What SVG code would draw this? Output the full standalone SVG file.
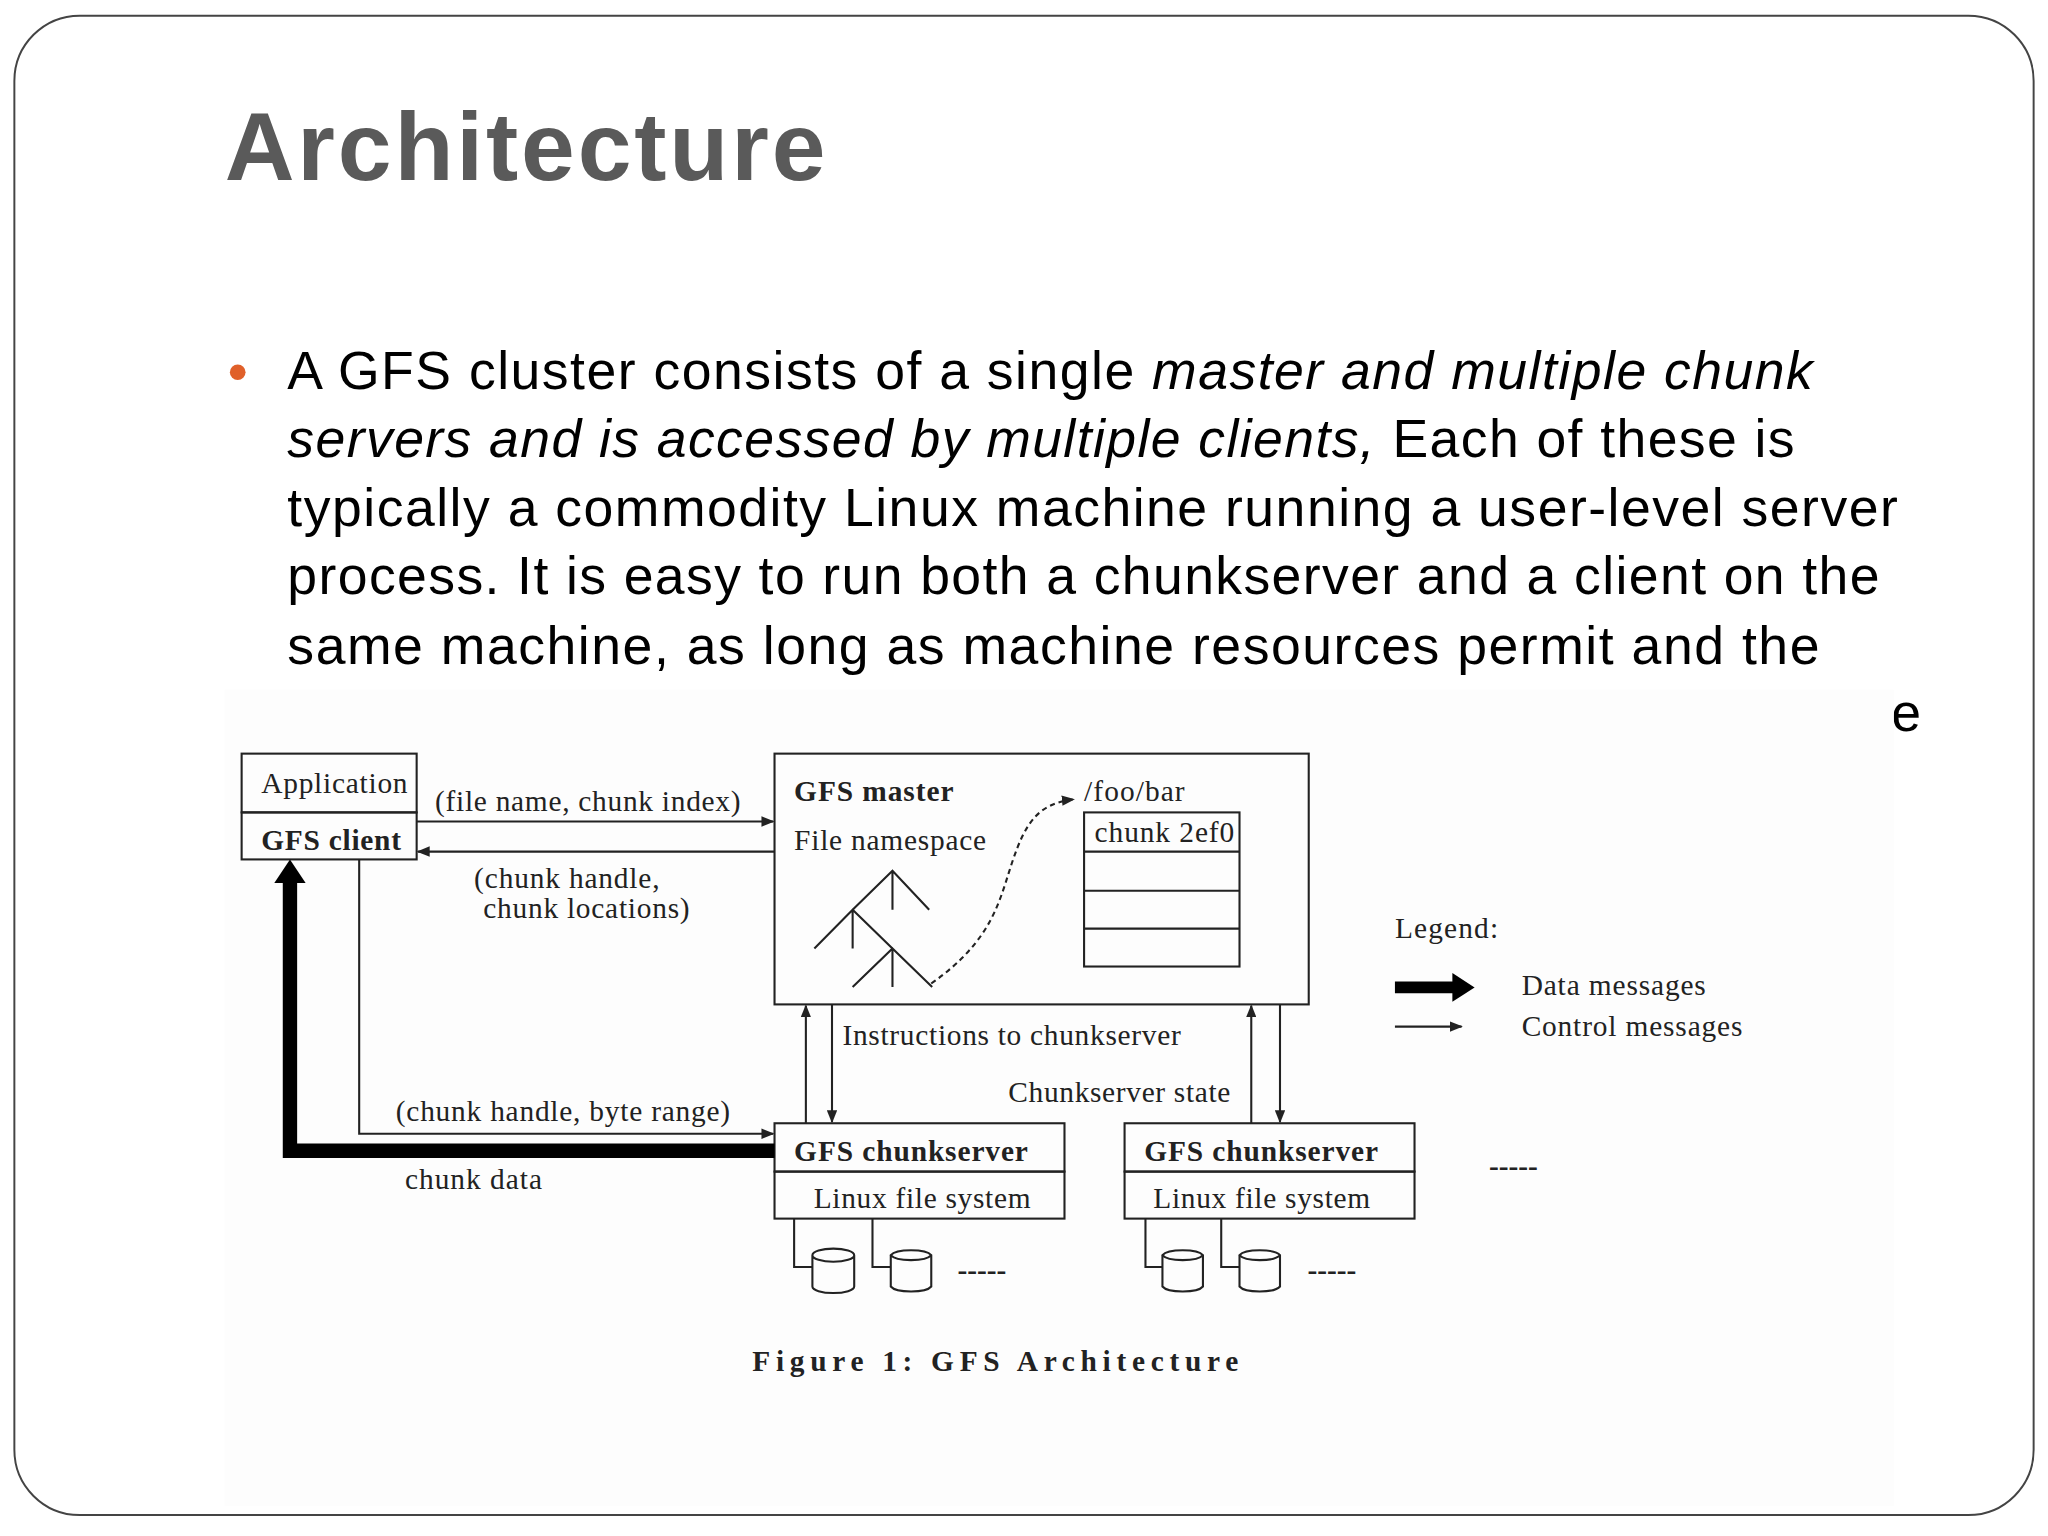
<svg xmlns="http://www.w3.org/2000/svg" width="2048" height="1536" viewBox="0 0 2048 1536">
<style>
.s{font-family:"Liberation Sans",Arial,sans-serif;font-size:41px;fill:#000}
.d{font-family:"Liberation Serif","DejaVu Serif",serif;font-size:22.5px;fill:#222}
.b{font-weight:bold}
.ln{stroke:#222;stroke-width:1.6;fill:none}
</style>
<defs>
<marker id="ah" markerWidth="10" markerHeight="8" refX="9" refY="4" orient="auto" markerUnits="userSpaceOnUse"><path d="M0,0 L10,4 L0,8 Z" fill="#222"/></marker>
</defs>
<rect width="2048" height="1536" fill="#fff"/>
<g transform="scale(1.30612)">
<rect x="11" y="12" width="1546" height="1148" rx="50" fill="#fff" stroke="#444" stroke-width="1.5"/>
<text x="172" y="138" font-family="Liberation Sans,Arial,sans-serif" font-size="74" font-weight="bold" fill="#5a5a5a" textLength="460">Architecture</text>
<circle cx="182" cy="285" r="6" fill="#E0602A"/>
<text class="s" x="220" y="298" textLength="1168">A GFS cluster consists of a single <tspan font-style="italic">master and multiple chunk</tspan></text>
<text class="s" x="220" y="350" textLength="1154"><tspan font-style="italic">servers and is accessed by multiple clients,</tspan> Each of these is</text>
<text class="s" x="220" y="403" textLength="1233">typically a commodity Linux machine running a user-level server</text>
<text class="s" x="220" y="455" textLength="1219">process. It is easy to run both a chunkserver and a client on the</text>
<text class="s" x="220" y="508" textLength="1173">same machine, as long as machine resources permit and the</text>
<text class="s" x="1448" y="560">e</text>
<rect x="172" y="528" width="1278" height="625" fill="#fdfdfd"/>
<g id="client">
<rect x="185" y="577" width="134" height="45" class="ln"/>
<rect x="185" y="622" width="134" height="36" class="ln"/>
<text class="d" x="200" y="607" textLength="112">Application</text>
<text class="d b" x="200" y="651" textLength="107">GFS client</text>
</g>
<g id="master">
<rect x="593" y="577" width="409" height="192" class="ln"/>
<text class="d b" x="608" y="613" textLength="122">GFS master</text>
<text class="d" x="608" y="651" textLength="147">File namespace</text>
<text class="d" x="830" y="613" textLength="77">/foo/bar</text>
<rect x="830" y="622" width="119" height="118" class="ln"/>
<path class="ln" d="M830,652H949M830,682H949M830,711H949"/>
<text class="d" x="838" y="645" textLength="107">chunk 2ef0</text>
<path class="ln" d="M652.8,696.5L683.3,666.7L711.4,696.5M683.3,666.7V696.5M623.5,726.2L652.8,696.5L683.3,726.2M652.8,696.5V726.2M652.8,755.6L683.3,726.2L713.7,755.6M683.3,726.2V755.6"/>
</g>
<g id="cs1">
<rect x="593" y="860" width="222" height="37" class="ln"/>
<rect x="593" y="897" width="222" height="36" class="ln"/>
<text class="d b" x="608" y="889" textLength="179">GFS chunkserver</text>
<text class="d" x="623" y="925" textLength="166">Linux file system</text>
</g>
<g id="cs2">
<rect x="861" y="860" width="222" height="37" class="ln"/>
<rect x="861" y="897" width="222" height="36" class="ln"/>
<text class="d b" x="876" y="889" textLength="179">GFS chunkserver</text>
<text class="d" x="883" y="925" textLength="166">Linux file system</text>
</g>
<g id="disks" class="ln">
<path d="M608,933V970H622M668,933V970H682M877,933V970H890M935,933V970H949"/>
<path d="M622,961V985A16,5 0 0 0 654,985V961A16,5 0 0 0 622,961A16,5 0 0 0 654,961"/>
<path d="M682,961V985A16,5 0 0 0 713,985V961A16,5 0 0 0 682,961A16,5 0 0 0 713,961"/>
<path d="M890,961V985A16,5 0 0 0 921,985V961A16,5 0 0 0 890,961A16,5 0 0 0 921,961"/>
<path d="M949,961V985A16,5 0 0 0 980,985V961A16,5 0 0 0 949,961A16,5 0 0 0 980,961"/>
</g>
<g id="connectors">
<line class="ln" x1="319" y1="629" x2="592" y2="629" marker-end="url(#ah)"/>
<line class="ln" x1="593" y1="652" x2="320" y2="652" marker-end="url(#ah)"/>
<path class="ln" stroke-dasharray="4,3" d="M713,753C760,720 765,690 775,660C785,630 795,615 822,612" marker-end="url(#ah)"/>
<line class="ln" x1="617" y1="860" x2="617" y2="770" marker-end="url(#ah)"/>
<line class="ln" x1="637" y1="769" x2="637" y2="859" marker-end="url(#ah)"/>
<line class="ln" x1="958" y1="860" x2="958" y2="770" marker-end="url(#ah)"/>
<line class="ln" x1="980" y1="769" x2="980" y2="859" marker-end="url(#ah)"/>
<path class="ln" d="M275,658V868H592" marker-end="url(#ah)"/>
<path d="M593,881H222V672" fill="none" stroke="#000" stroke-width="11"/>
<path d="M210,676L222,658L234,676Z" fill="#000"/>
</g>
<g id="labels">
<text class="d" x="333" y="621" textLength="234">(file name, chunk index)</text>
<text class="d" x="363" y="680" textLength="142">(chunk handle,</text>
<text class="d" x="370" y="703" textLength="158">chunk locations)</text>
<text class="d" x="645" y="800" textLength="259">Instructions to chunkserver</text>
<text class="d" x="772" y="844" textLength="170">Chunkserver state</text>
<text class="d" x="303" y="858" textLength="256">(chunk handle, byte range)</text>
<text class="d" x="310" y="910" textLength="105">chunk data</text>
<text class="d b" x="1140" y="900">-----</text>
<text class="d b" x="733" y="980">-----</text>
<text class="d b" x="1001" y="980">-----</text>
</g>
<g id="legend">
<text class="d" x="1068" y="718" textLength="79">Legend:</text>
<path d="M1068,756H1114" stroke="#000" stroke-width="9"/>
<path d="M1112,745L1129,756L1112,767Z" fill="#000"/>
<line class="ln" x1="1068" y1="786" x2="1119" y2="786" marker-end="url(#ah)"/>
<text class="d" x="1165" y="762" textLength="141">Data messages</text>
<text class="d" x="1165" y="793" textLength="169">Control messages</text>
</g>
<text class="d b" x="576" y="1050" font-size="25" textLength="372">Figure 1: GFS Architecture</text>
</g>
</svg>
